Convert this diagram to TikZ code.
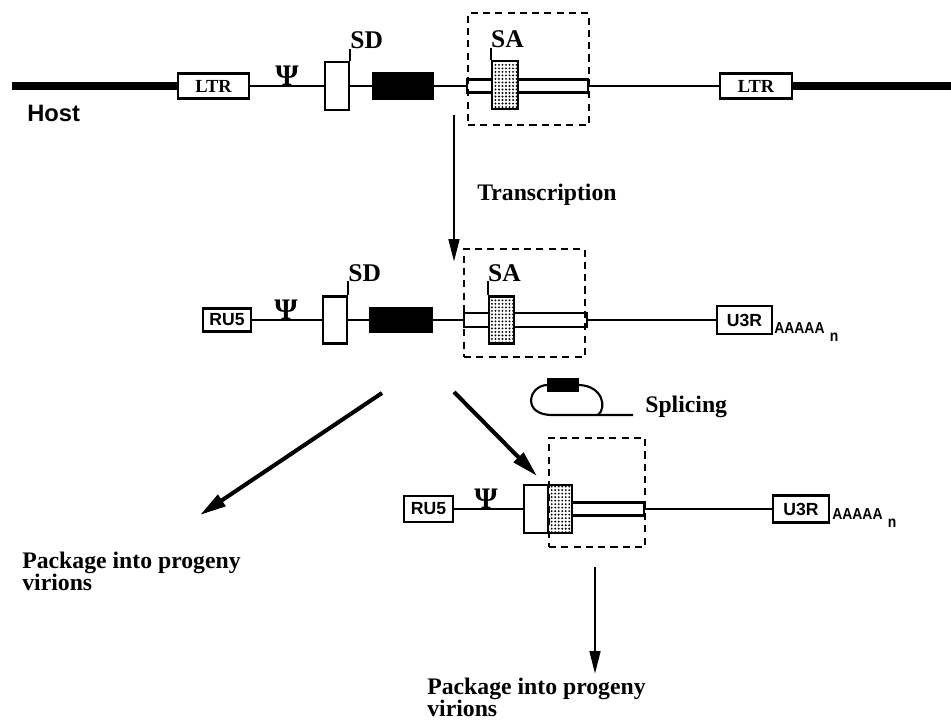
\documentclass[tikz,border=0pt]{standalone}
\usepackage{fontspec}
\setmainfont{Liberation Serif}
\setsansfont{Liberation Sans}
\usetikzlibrary{arrows.meta,patterns.meta}
\tikzset{
  seg/.style={draw, line width=1.3pt, fill=white, inner sep=0pt},
  sz/.style 2 args={minimum width=#1*0.02cm, minimum height=#2*0.02cm},
  exon/.style={seg, fill=black},
  stip/.style={draw, line width=1.3pt, inner sep=0pt, preaction={fill=white},
               pattern={Dots[distance=2pt, radius=0.6pt]}},
  region/.style={draw, line width=1.2pt, dash pattern=on 4pt off 3pt, inner sep=0pt},
  wire/.style={line width=1.2pt},
  host/.style={line width=4.5pt},
  flow/.style={-{Triangle[length=13pt, width=6pt]}, line width=1.6pt},
  bigflow/.style={-{Triangle[length=15pt, width=7.5pt]}, line width=2.3pt},
  ltrlbl/.style={font=\fontsize{10.5}{12}\selectfont\bfseries},
  sslbl/.style={font=\fontsize{10}{11}\selectfont\sffamily\bfseries},
  polyA/.style={font=\fontsize{9}{10}\selectfont\sffamily\bfseries, inner sep=0pt},
  psi/.style={font=\fontsize{17}{17}\selectfont\bfseries, inner sep=0pt, anchor=south},
  sitelbl/.style={font=\fontsize{14.5}{15}\selectfont\bfseries, inner sep=0pt, anchor=base west},
  lbl/.style={font=\fontsize{13.5}{12.5}\selectfont\bfseries, inner sep=0pt},
  hostlbl/.style={font=\fontsize{13.5}{14}\selectfont\sffamily\bfseries, inner sep=0pt}
}
\newcommand{\polyAtail}{\scalebox{0.88}[1]{AAAAA}\hspace{3pt}\raisebox{-4.5pt}{\scalebox{0.88}[1]{n}}}

\begin{document}
\begin{tikzpicture}[x=0.02cm, y=-0.02cm]
\useasboundingbox (0,0) rectangle (951,722);

% provirus in the host DNA
\coordinate (hostL) at (12,86);
\coordinate (hostR) at (951,86);
\node[seg, sz={71}{25}, ltrlbl] (ltrL) at (213.5,86) {LTR};
\node[seg, sz={24}{48}] (sdT) at (337,86) {};
\node[exon, sz={60}{26}] (exT) at (403,86) {};
\node[seg, sz={121}{13}] (barT) at (527.5,86) {};
\node[stip, sz={26}{48}] (saT) at (505,85) {};
\node[region, sz={121}{112}] (boxT) at (528.5,69) {};
\node[seg, sz={72}{25}, ltrlbl] (ltrR) at (756,86) {LTR};
\draw[host] (hostL) -- (ltrL.west);
\draw[host] (ltrR.east) -- (hostR);
\draw[wire] (ltrL.east) -- (sdT.west) (sdT.east) -- (exT.west)
            (exT.east) -- (barT.west) (barT.east) -- (ltrR.west);
\node[psi] (psiT) at (287,86) {Ψ};
\draw[wire] (sdT.north east) -- ++(0,-12) coordinate (sdTtop);
\node[sitelbl] (sdTlbl) at (sdTtop) {SD};
\draw[wire] (saT.north west) -- ++(0,-12) coordinate (saTtop);
\node[sitelbl] (saTlbl) at (saTtop) {SA};
\node[hostlbl, anchor=base west] (host) at (27,122) {Host};

% transcription
\coordinate (trA) at (454,115);
\coordinate (trB) at (454,262);
\draw[flow] (trA) -- (trB);
\node[lbl, anchor=base west] (trlbl) at (477,201) {Transcription};

% full-length RNA
\node[seg, sz={48}{23}, sslbl] (ru5M) at (227,320) {RU5};
\node[seg, sz={24}{47}] (sdM) at (335,320) {};
\node[exon, sz={62}{24}] (exM) at (401,320) {};
\node[seg, sz={123}{14}] (barM) at (525.5,320) {};
\node[stip, sz={25}{47}] (saM) at (501.5,320) {};
\node[region, sz={121}{108}] (boxM) at (524.5,303) {};
\node[seg, sz={55}{28}, sslbl] (u3rM) at (744.5,320) {U3R};
\draw[wire] (ru5M.east) -- (sdM.west) (sdM.east) -- (exM.west)
            (exM.east) -- (barM.west) (barM.east) -- (u3rM.west);
\node[psi] (psiM) at (286,320) {Ψ};
\draw[wire] (sdM.north east) -- ++(0,-14) coordinate (sdMtop);
\node[sitelbl] (sdMlbl) at (sdMtop) {SD};
\draw[wire] (saM.north west) -- ++(0,-14) coordinate (saMtop);
\node[sitelbl] (saMlbl) at (saMtop) {SA};
\node[polyA, anchor=base west] (paM) at (774,334) {\polyAtail};

% spliced-out intron
\node[exon, sz={30}{12}] (lariat) at (563,385) {};
\coordinate (loopJoin) at (598,415);
\coordinate (splEnd) at (633,415);
\draw[wire] (lariat.west) .. controls (528,386) and (522,415) .. (552,415) -- (splEnd);
\draw[wire] (lariat.east) .. controls (603,386) and (607,408) .. (loopJoin);
\node[lbl, anchor=base west] (spllbl) at (645,413) {Splicing};

% two fates
\coordinate (pkgA) at (382,393);
\coordinate (pkgAend) at (200,515);
\draw[bigflow] (pkgA) -- (pkgAend);
\coordinate (splA) at (454,392);
\coordinate (splAend) at (537,476);
\draw[bigflow] (splA) -- (splAend);
\node[lbl, align=left, anchor=north west] (pkgL) at (22,552) {Package into progeny\\virions};

% spliced RNA
\node[seg, sz={49}{26}, sslbl] (ru5B) at (428.5,509) {RU5};
\node[seg, sz={24}{48}] (sdB) at (536,509) {};
\node[stip, sz={24}{48}] (saB) at (560,509) {};
\node[seg, sz={72}{13}] (barB) at (608,509) {};
\node[region, sz={96}{109}] (boxB) at (597,492.5) {};
\node[seg, sz={56}{27}, sslbl] (u3rB) at (801,509) {U3R};
\draw[wire] (ru5B.east) -- (sdB.west) (barB.east) -- (u3rB.west);
\node[psi] (psiB) at (486,509) {Ψ};
\node[polyA, anchor=base west] (paB) at (832,520) {\polyAtail};

\coordinate (outA) at (595,567);
\coordinate (outB) at (595,674);
\draw[flow] (outA) -- (outB);
\node[lbl, align=left, anchor=north west] (pkgR) at (427,678) {Package into progeny\\virions};
\end{tikzpicture}
\end{document}
